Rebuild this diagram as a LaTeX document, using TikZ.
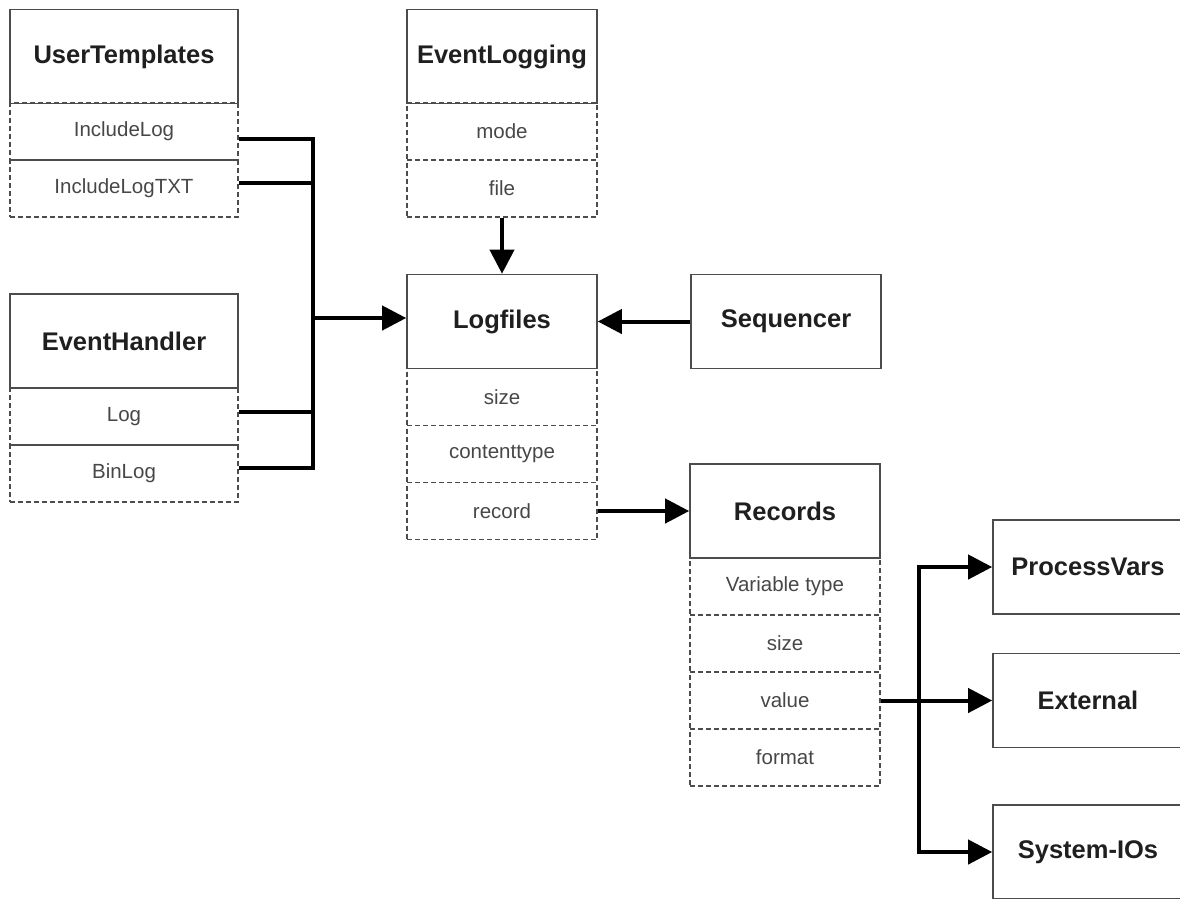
\documentclass[tikz,border=0pt]{standalone}
\usepackage{fontspec}
\setmainfont{Liberation Sans}
\usetikzlibrary{arrows.meta}
\begin{document}
\begin{tikzpicture}[x=1pt,y=-1pt,
  hdr/.style={draw=black!70, line width=1.6pt, inner sep=0pt, minimum width=190pt, minimum height=94pt, font=\fontsize{25.5}{30}\selectfont\bfseries, text=black!88},
  fld/.style={draw=black!70, line width=1.6pt, dash pattern=on 5pt off 3pt, inner sep=0pt, minimum width=190pt, minimum height=57pt, font=\fontsize{20.5}{24}\selectfont, text=black!72},
  lnk/.style={line width=4pt},
  arr/.style={line width=4pt, -{Triangle[length=24pt,width=24pt]}}]
\useasboundingbox (0,0) rectangle (1180,898);
% UserTemplates
\node[hdr, minimum width=228pt] (ut) at (124,56.5){UserTemplates};
\node[fld, minimum width=228pt] (ut1) at (124,131.5){IncludeLog};
\node[fld, minimum width=228pt] (ut2) at (124,188.5){IncludeLogTXT};
% EventHandler
\node[hdr, minimum width=228pt] (eh) at (124,341){EventHandler};
\node[fld, minimum width=228pt] (eh1) at (124,416.5){Log};
\node[fld, minimum width=228pt] (eh2) at (124,473.5){BinLog};
% EventLogging
\node[hdr] (el) at (502,56.5){EventLogging};
\node[fld] (el1) at (502,131.5){mode};
\node[fld] (el2) at (502,188.5){file};
% Logfiles
\node[hdr] (lf) at (502,321.5){Logfiles};
\node[fld] (lf1) at (502,397){size};
\node[fld] (lf2) at (502,454){contenttype};
\node[fld] (lf3) at (502,511){record};
\node[hdr] (sq) at (786,321.5){Sequencer};
% Records
\node[hdr] (rc) at (785,511){Records};
\node[fld] (rc1) at (785,586.5){Variable type};
\node[fld] (rc2) at (785,643.5){size};
\node[fld] (rc3) at (785,700.5){value};
\node[fld] (rc4) at (785,757.5){format};
\node[hdr] (pv) at (1088,567){ProcessVars};
\node[hdr] (ex) at (1088,700.5){External};
\node[hdr] (si) at (1088,852){System-IOs};
% links
\coordinate (jl) at (313,318);
\coordinate (jr) at (919,700.5);
\draw[lnk] ([yshift=-7.5pt]ut1.east) -| (jl);
\draw[lnk] ([yshift=5.5pt]ut2.east) -| (jl);
\draw[lnk] ([yshift=4.5pt]eh1.east) -| (jl);
\draw[lnk] ([yshift=5.5pt]eh2.east) -| (jl);
\draw[arr] (jl) -- (jl -| lf.west);
\draw[arr] (el2.south) -- (lf.north);
\draw[arr] (sq.west) -- (lf.east);
\draw[arr] (lf3.east) -- (lf3.east -| rc.west);
\draw[arr] (rc3.east) -- (ex.west);
\draw[arr] (jr) |- (pv.west);
\draw[arr] (jr) |- (si.west);
\end{tikzpicture}
\end{document}
